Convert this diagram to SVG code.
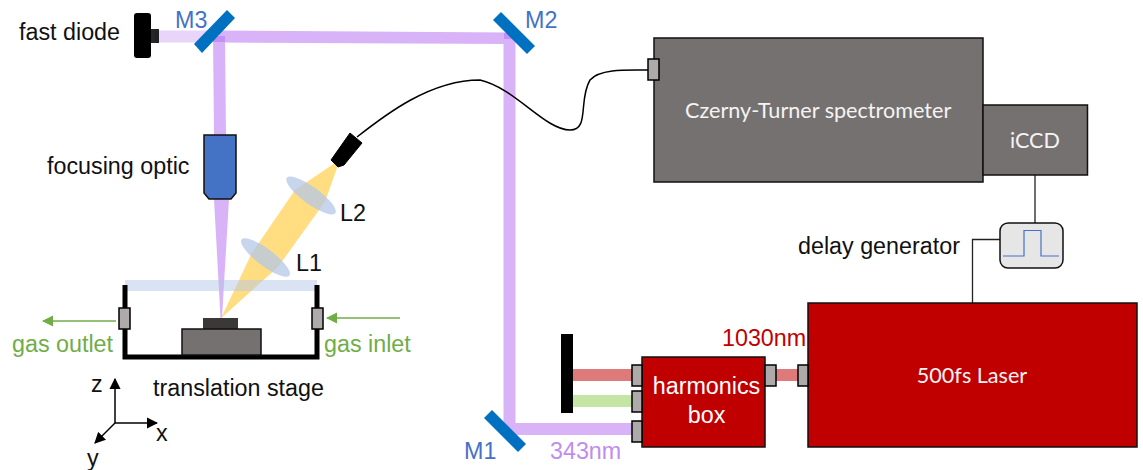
<svg xmlns="http://www.w3.org/2000/svg" width="1143" height="470" viewBox="0 0 1143 470">
<style>
text{font-family:"Liberation Sans",Arial,sans-serif;font-size:23.300px;fill:#111}
.cal{font-family:Lato,"Liberation Sans",sans-serif;fill:#f4f4f4;font-size:21.600px}
.w{fill:#fff}
.blue{fill:#4472c4}
.gr{fill:#70ad47}
.port{fill:#aeaaaa;stroke:#000;stroke-width:1.5}
.grey{fill:#767171;stroke:#111;stroke-width:1.5}
.red{fill:#c00000;stroke:#111;stroke-width:1.5}
.mirror{fill:#0070c0}
.uv{fill:#d9b3f7}
.lens{fill:#b4c7e7;fill-opacity:.75}
.wire{fill:none;stroke:#222;stroke-width:1.3}
.axis{fill:none;stroke:#000;stroke-width:1.5;marker-end:url(#ak)}
.gas{fill:none;stroke:#70ad47;stroke-width:1.5;marker-end:url(#ag)}
</style>
<defs>
<marker id="ak" viewBox="0 0 10 10" refX="9" refY="5" markerWidth="7.5" markerHeight="7.5" orient="auto"><path d="M0 0L10 5L0 10z" fill="#000"/></marker>
<marker id="ag" viewBox="0 0 10 10" refX="9" refY="5" markerWidth="7.5" markerHeight="7.5" orient="auto"><path d="M0 0L10 5L0 10z" fill="#70ad47"/></marker>
</defs>

<g id="connectors">
<path class="wire" d="M1035 175V223M1000 239.500H972.500V303"/>
<rect x="155" y="30.500" width="55" height="12" fill="#e8d5f9"/>
<path class="uv" d="M219 30.500L510 32.500V44L219 42.500z"/>
<path class="uv" d="M213 36H225L226 135H214z"/>
<path class="uv" d="M214 199H229L222 318H220.500z"/>
<rect class="uv" x="503.500" y="38" width="12" height="397"/>
<rect class="uv" x="507" y="423" width="125" height="12"/>
<path d="M213 36h12v6h-12z" fill="#c490f5"/>
<path d="M504 33h12v6h-12z" fill="#c490f5"/>
<rect x="572" y="369" width="60" height="12" fill="#df7a7a"/>
<rect x="776" y="369" width="22" height="12" fill="#df7a7a"/>
<rect x="572" y="395" width="60" height="12" fill="#c5e5a5"/>
<path d="M221 318.300L251.700 253.300L295 190L335 163L338 165L325 201.700L278 267z" fill="#ffdd80"/>
<path d="M357 137C385 115 430 80 480 80C515 88 545 130 570 130C590 130 578 100 590 80C600 68 630 70 650 70" fill="none" stroke="#000" stroke-width="1.500"/>
<path class="gas" d="M116 321H43"/>
<path class="gas" d="M400 318H327"/>
<path class="axis" d="M115 423V379"/>
<path class="axis" d="M115 423H157"/>
<path class="axis" d="M115 423L95 443"/>
</g>

<g id="chamber">
<rect x="125" y="280" width="192" height="11" fill="#b4c7e7" fill-opacity=".5"/>
<path d="M125 285V357H317V285" fill="none" stroke="#000" stroke-width="5"/>
<rect class="port" x="119" y="308" width="11" height="21"/>
<rect class="port" x="312" y="308" width="11" height="21"/>
<rect x="203" y="318" width="35" height="11" fill="#3b3838"/>
<rect class="grey" x="182" y="329" width="79" height="26"/>
<text x="153" y="396">translation stage</text>
<text class="gr" x="12" y="352">gas outlet</text>
<text class="gr" x="324" y="352">gas inlet</text>
</g>
<g id="diode">
<rect x="134" y="13" width="17" height="45" rx="3" fill="#000"/>
<rect x="150" y="29" width="9" height="14" fill="#000" fill-opacity=".85"/>
<text x="19" y="40">fast diode</text>
</g>
<g id="m3"><path class="mirror" d="M227 10L235 18L202 53L194 44z"/><text class="blue" x="175" y="28">M3</text></g>
<g id="m2"><path class="mirror" d="M501 12L535 46L527 54L493 20z"/><text class="blue" x="525" y="28">M2</text></g>
<g id="m1"><path class="mirror" d="M492 410L526 444L518 452L484 418z"/><text class="blue" x="464" y="459">M1</text><text x="550" y="459" style="fill:#bf8cf0">343nm</text></g>
<g id="optic"><path d="M204 135H236V193L231 199H209L204 193z" fill="#4472c4" stroke="#111" stroke-width="1.500"/><text x="47" y="174">focusing optic</text></g>
<g id="l2"><ellipse class="lens" cx="311" cy="195.500" rx="30" ry="8.500" transform="rotate(36 311 195.500)"/><text x="340" y="221">L2</text></g>
<g id="l1"><ellipse class="lens" cx="265.500" cy="257.500" rx="30" ry="8.500" transform="rotate(37 265.500 257.500)"/><text x="296" y="271">L1</text></g>
<g id="collector"><path d="M350 133L362 143L344 165L338 167L331 160z" fill="#000" stroke="#000" stroke-linejoin="round"/></g>
<g id="spectrometer">
<rect class="grey" x="654" y="38" width="329" height="144"/>
<rect class="port" x="648" y="59" width="11" height="21"/>
<text class="cal" x="685" y="118">Czerny-Turner spectrometer</text>
</g>
<g id="iccd"><rect class="grey" x="983" y="105" width="104.500" height="70"/><text class="cal" x="1035" y="148" text-anchor="middle">iCCD</text></g>
<g id="delay">
<rect x="1000" y="223" width="63" height="45" rx="8" fill="#e7e6e6" stroke="#111" stroke-width="1.500"/>
<path d="M1003 256H1024V230.500H1041V256H1059" fill="none" stroke="#4472c4" stroke-width="1.200"/>
<text x="798" y="254">delay generator</text>
</g>
<g id="laser">
<rect class="red" x="808" y="303" width="329" height="144"/>
<rect class="port" x="798" y="365" width="10" height="21"/>
<text class="cal" x="972" y="383" text-anchor="middle">500fs Laser</text>
<text x="722" y="346" style="fill:#c00000">1030nm</text>
</g>
<g id="harmonics">
<rect class="red" x="642" y="357" width="123" height="90"/>
<rect class="port" x="632" y="365" width="10" height="21"/>
<rect class="port" x="632" y="391" width="10" height="21"/>
<rect class="port" x="632" y="421" width="10" height="21"/>
<rect class="port" x="765" y="365" width="11" height="21"/>
<text class="w" x="706.500" y="394" text-anchor="middle">harmonics</text>
<text class="w" x="706.500" y="423" text-anchor="middle">box</text>
</g>
<g id="dump"><rect x="561" y="334" width="12" height="79" fill="#000"/></g>
<g id="axes">
<text x="91" y="392">z</text><text x="156" y="441">x</text><text x="87" y="466">y</text>
</g>
</svg>
